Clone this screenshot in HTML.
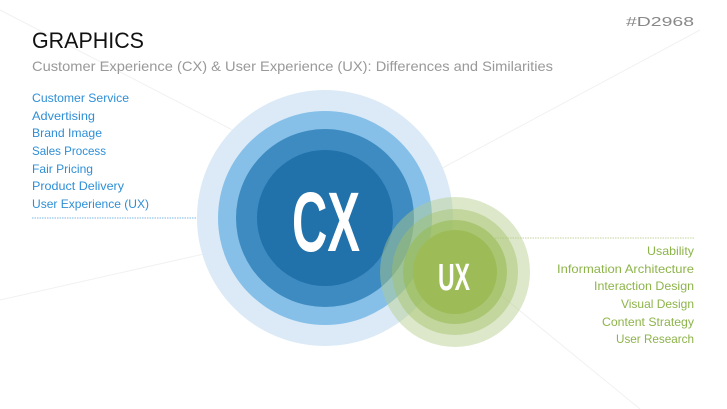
<!DOCTYPE html>
<html><head><meta charset="utf-8"><style>
html,body{margin:0;padding:0;background:#fff;}
svg{display:block;}
text{font-family:"Liberation Sans",sans-serif;}
</style></head><body>
<svg width="727" height="409" viewBox="0 0 727 409" xmlns="http://www.w3.org/2000/svg">
<rect width="727" height="409" fill="#fff"/>
<g stroke="#f1f1f1" stroke-width="1">
<line x1="0" y1="10" x2="310" y2="170"/>
<line x1="700" y1="30" x2="420" y2="180"/>
<line x1="0" y1="300" x2="310" y2="230"/>
<line x1="470" y1="270" x2="640" y2="409"/>
</g>
<text x="694" y="26" font-size="13" fill="#888" text-anchor="end" textLength="68" lengthAdjust="spacingAndGlyphs">#D2968</text>
<text x="32" y="48" font-size="22" fill="#111" textLength="112" lengthAdjust="spacingAndGlyphs">GRAPHICS</text>
<text x="32" y="71" font-size="14" fill="#999" textLength="521" lengthAdjust="spacingAndGlyphs">Customer Experience (CX) &amp; User Experience (UX): Differences and Similarities</text>
<g font-size="12" fill="#2e8fd6">
<text x="32" y="102" textLength="97" lengthAdjust="spacingAndGlyphs">Customer Service</text>
<text x="32" y="120" textLength="63" lengthAdjust="spacingAndGlyphs">Advertising</text>
<text x="32" y="137" textLength="70" lengthAdjust="spacingAndGlyphs">Brand Image</text>
<text x="32" y="155" textLength="74" lengthAdjust="spacingAndGlyphs">Sales Process</text>
<text x="32" y="173" textLength="61" lengthAdjust="spacingAndGlyphs">Fair Pricing</text>
<text x="32" y="190" textLength="92" lengthAdjust="spacingAndGlyphs">Product Delivery</text>
<text x="32" y="208" textLength="117" lengthAdjust="spacingAndGlyphs">User Experience (UX)</text>
</g>
<line x1="32" y1="218" x2="225" y2="218" stroke="#7bb8e6" stroke-width="1" stroke-dasharray="1.5,1"/>
<line x1="495" y1="238" x2="694" y2="238" stroke="#c3d69e" stroke-width="1" stroke-dasharray="1.5,1"/>
<g font-size="12" fill="#8db44a" text-anchor="end">
<text x="694" y="255" textLength="47" lengthAdjust="spacingAndGlyphs">Usability</text>
<text x="694" y="273" textLength="137" lengthAdjust="spacingAndGlyphs">Information Architecture</text>
<text x="694" y="290" textLength="100" lengthAdjust="spacingAndGlyphs">Interaction Design</text>
<text x="694" y="308" textLength="73" lengthAdjust="spacingAndGlyphs">Visual Design</text>
<text x="694" y="326" textLength="92" lengthAdjust="spacingAndGlyphs">Content Strategy</text>
<text x="694" y="343" textLength="78" lengthAdjust="spacingAndGlyphs">User Research</text>
</g>
<circle cx="325" cy="218" r="128" fill="#dbeaf6"/>
<circle cx="325" cy="218" r="107" fill="#86c0e9"/>
<circle cx="325" cy="218" r="89" fill="#3d8bc0"/>
<circle cx="325" cy="218" r="68" fill="#2171ab"/>
<text x="292" y="251" font-size="84" font-weight="bold" fill="#fff" style="font-family:'Liberation Sans Narrow','Liberation Sans',sans-serif" textLength="68" lengthAdjust="spacingAndGlyphs">CX</text>
<circle cx="455" cy="272" r="75" fill="rgba(180,204,138,0.45)"/>
<circle cx="455" cy="272" r="63" fill="rgba(163,194,104,0.45)"/>
<circle cx="455" cy="272" r="52" fill="rgba(150,186,80,0.55)"/>
<circle cx="455" cy="272" r="42" fill="#9dbc57"/>
<text x="438" y="290" font-size="38" font-weight="bold" fill="#fff" style="font-family:'Liberation Sans Narrow','Liberation Sans',sans-serif" textLength="32" lengthAdjust="spacingAndGlyphs">UX</text>
</svg>
</body></html>
